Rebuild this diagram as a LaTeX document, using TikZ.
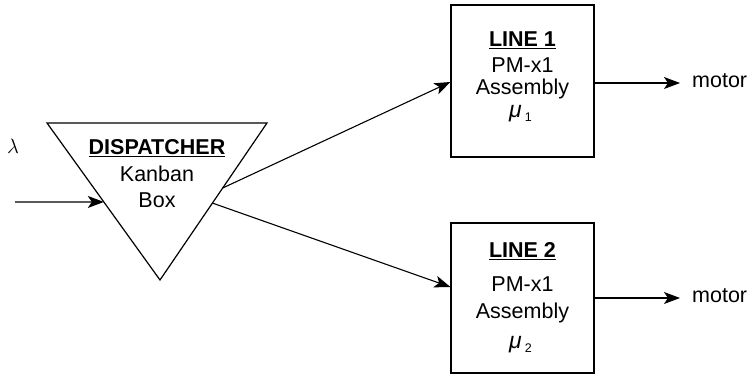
\documentclass[tikz,border=0pt]{standalone}
\usepackage{fontspec}
\setmainfont{Liberation Sans}
\usetikzlibrary{arrows.meta,calc}
\newcommand\musub[1]{{\fontsize{23}{26}\selectfont\itshape μ}\kern3pt\raisebox{-4pt}{\fontsize{12.5}{12.5}\selectfont #1}}
\begin{document}
\begin{tikzpicture}[x=1pt,y=-1pt,
  txt/.style={inner sep=0pt,anchor=base,font=\fontsize{21.5}{26}\selectfont},
  bold/.style={txt,font=\fontsize{21.5}{26}\selectfont\bfseries},
  boxnode/.style={draw,line width=1.2pt,minimum width=143pt,inner sep=0pt},
  shapeline/.style={line width=1.2pt,line join=miter},
  arr/.style={line width=1.1pt,-{Stealth[length=16pt,width=12pt,inset=4pt]}},
  ]
\useasboundingbox (0,0) rectangle (748,374);
% dispatcher triangle
\coordinate (tl) at (47,123);
\coordinate (tr) at (267,123);
\coordinate (ap) at (160,280);
\draw[shapeline] (tl) -- (tr) -- (ap) -- cycle;
\node[bold] (disp) at (157,155) {\underline{DISPATCHER}};
\node[txt] (kanban) at (157,182) {Kanban};
\node[txt] (boxt) at (157,208) {Box};
% lines
\node[boxnode,minimum height=152pt] (line1) at (522.5,81) {};
\node[boxnode,minimum height=150pt] (line2) at (522.5,298) {};
\node[bold] (l1a) at (522.5,47) {\underline{LINE 1}};
\node[txt] (l1b) at (522.5,72.5) {PM-x1};
\node[txt] (l1c) at (522.5,94.5) {Assembly};
\node[txt] (l1d) at (520.5,118) {\musub{1}};
\node[bold] (l2a) at (522.5,258) {\underline{LINE 2}};
\node[txt] (l2b) at (522.5,292) {PM-x1};
\node[txt] (l2c) at (522.5,319) {Assembly};
\node[txt] (l2d) at (520.5,349) {\musub{2}};
% input
\node[txt,anchor=base west,font=\fontsize{22}{26}\selectfont] (lam) at (7,154) {$\lambda$};
\coordinate (in) at (15,202);
\coordinate (inend) at ($(tl)!0.503!(ap)$);
\draw[arr] (in) -- (inend);
% outputs of dispatcher
\coordinate (o1) at ($(tr)!0.414!(ap)$);
\coordinate (o2) at ($(tr)!0.51!(ap)$);
\draw[arr] (o1) -- ($(line1.west)+(0,1)$);
\draw[arr] (o2) -- ($(line2.west)+(0,-11)$);
% motors
\coordinate (m1) at (680,83);
\coordinate (m2) at (680,298);
\node[txt,anchor=base west] (motor1) at (692,88) {motor};
\node[txt,anchor=base west] (motor2) at (692,303) {motor};
\draw[arr] (line1.east |- m1) -- (m1);
\draw[arr] (line2.east |- m2) -- (m2);
\end{tikzpicture}
\end{document}
